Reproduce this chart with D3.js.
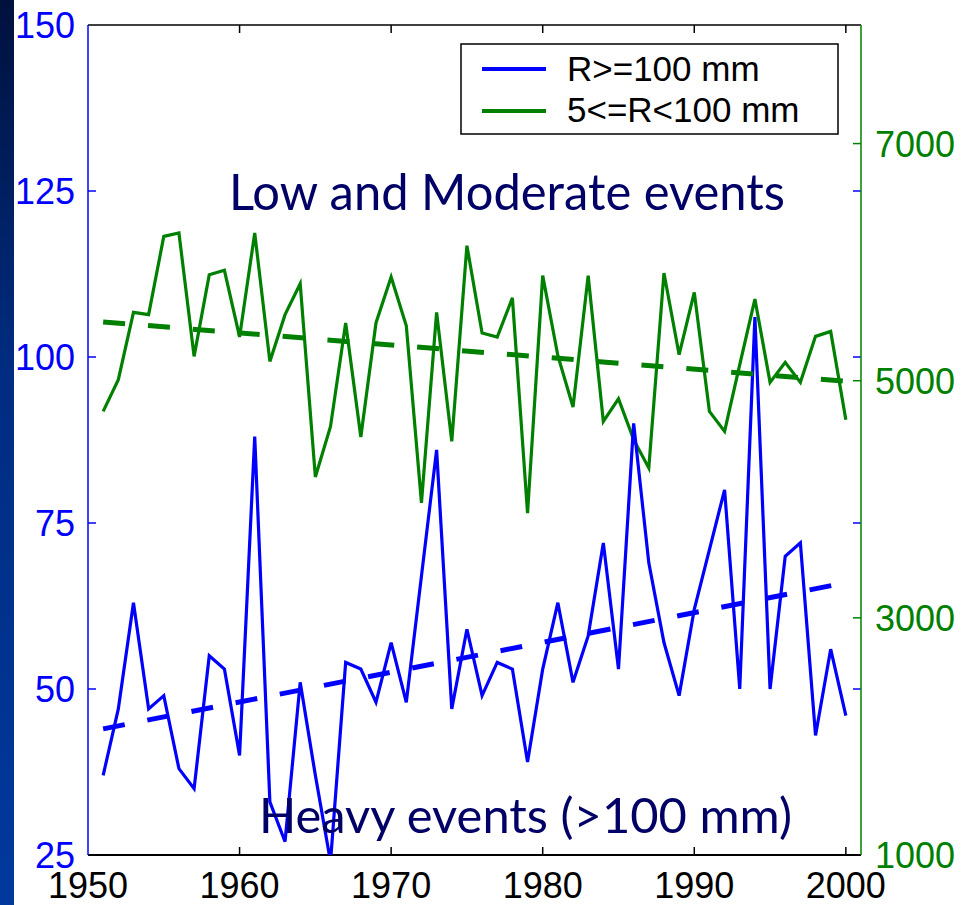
<!DOCTYPE html>
<html>
<head>
<meta charset="utf-8">
<script src="https://cdn.jsdelivr.net/npm/d3@7"></script>
<style>
  body { margin: 0; background: #fff; }
  text { font-family: "Liberation Sans", Arial, sans-serif; }
</style>
</head>
<body>
<script>
// yearly counts of rain events

var years = [1951, 1952, 1953, 1954, 1955, 1956, 1957, 1958, 1959, 1960,
             1961, 1962, 1963, 1964, 1965, 1966, 1967, 1968, 1969, 1970,
             1971, 1972, 1973, 1974, 1975, 1976, 1977, 1978, 1979, 1980,
             1981, 1982, 1983, 1984, 1985, 1986, 1987, 1988, 1989, 1990,
             1991, 1992, 1993, 1994, 1995, 1996, 1997, 1998, 1999, 2000];

// R>=100 mm (left axis)
var heavy = [37, 47, 63, 47, 49, 38, 35, 55, 53, 40,
             88, 33, 27, 51, 37, 24, 54, 53, 48, 57,
             48, 67, 86, 47, 59, 49, 54, 53, 39, 53,
             63, 51, 58, 72, 53, 90, 69, 57, 49, 62,
             71, 80, 50, 106, 50, 70, 72, 43, 56, 46];

// 5<=R<100 mm (right axis)
var moderate = [4741, 5009, 5576, 5557, 6217, 6246, 5205, 5894, 5931, 5369,
                6246, 5163, 5557, 5818, 4188, 4615, 5487, 4525, 5487, 5875,
                5464, 3969, 5576, 4488, 6139, 5403, 5369, 5698, 3884, 5886,
                5211, 4778, 5886, 4657, 4848, 4503, 4264, 5908, 5219, 5745,
                4741, 4573, 5135, 5689, 4986, 5155, 4986, 5374, 5416, 4671];

// dashed linear trends, start and end value
var trendYears = [1951, 2000];
var heavyTrend = [44, 66];
var moderateTrend = [5495, 4995];

var xTicks = [1950, 1960, 1970, 1980, 1990, 2000];
var leftTicks = [25, 50, 75, 100, 125, 150];
var rightTicks = [1000, 3000, 5000, 7000];
var legendLabels = ['R>=100 mm', '5<=R<100 mm'];

var blue = '#0000ff';
var green = '#008000';
var navy = '#000066';

var pLeft = 88, pRight = 861, pTop = 25, pBottom = 855;

var x = d3.scaleLinear().domain([1950, 2001]).range([pLeft, pRight]);
var yL = d3.scaleLinear().domain([25, 150]).range([pBottom, pTop]);
var yR = d3.scaleLinear().domain([1000, 8000]).range([pBottom, pTop]);

var svg = d3.select('body')
  .append('svg')
    .attr('width', 961)
    .attr('height', 905);

// dark strip at the left edge
var defs = svg.append('defs');
var grad = defs.append('linearGradient')
    .attr('id', 'strip')
    .attr('x1', 0).attr('y1', 0).attr('x2', 0).attr('y2', 1);
grad.append('stop').attr('offset', '0%').attr('stop-color', '#00113d');
grad.append('stop').attr('offset', '40%').attr('stop-color', '#002c80');
grad.append('stop').attr('offset', '100%').attr('stop-color', '#00399d');
svg.append('rect')
    .attr('x', 0).attr('y', 0)
    .attr('width', 14).attr('height', 905)
    .style('fill', 'url(#strip)');

defs.append('clipPath').attr('id', 'plot')
  .append('rect')
    .attr('x', pLeft).attr('y', pTop)
    .attr('width', pRight - pLeft).attr('height', pBottom - pTop);

// ticks, all pointing inwards
var tickLen = 8;
var g = svg.append('g');

g.selectAll('.xtb').data(xTicks.slice(1)).enter().append('line')
    .attr('x1', function(d) { return x(d); }).attr('x2', function(d) { return x(d); })
    .attr('y1', pBottom).attr('y2', pBottom - tickLen)
    .style('stroke', '#000').style('stroke-width', 1.5);
g.selectAll('.xtt').data(xTicks.slice(1)).enter().append('line')
    .attr('x1', function(d) { return x(d); }).attr('x2', function(d) { return x(d); })
    .attr('y1', pTop).attr('y2', pTop + tickLen)
    .style('stroke', '#000').style('stroke-width', 1.5);

var innerLeft = leftTicks.slice(1, -1);
g.selectAll('.ytl').data(innerLeft).enter().append('line')
    .attr('x1', pLeft).attr('x2', pLeft + tickLen)
    .attr('y1', function(d) { return yL(d); }).attr('y2', function(d) { return yL(d); })
    .style('stroke', blue).style('stroke-width', 1.5);
g.selectAll('.ytr').data(innerLeft).enter().append('line')
    .attr('x1', pRight).attr('x2', pRight - tickLen)
    .attr('y1', function(d) { return yL(d); }).attr('y2', function(d) { return yL(d); })
    .style('stroke', blue).style('stroke-width', 1.5);
g.selectAll('.yrt').data(rightTicks.slice(1)).enter().append('line')
    .attr('x1', pRight).attr('x2', pRight - tickLen)
    .attr('y1', function(d) { return yR(d); }).attr('y2', function(d) { return yR(d); })
    .style('stroke', green).style('stroke-width', 1.5);

// box
svg.append('line').attr('x1', pLeft).attr('x2', pRight).attr('y1', pTop).attr('y2', pTop)
    .style('stroke', '#000').style('stroke-width', 1.5);
svg.append('line').attr('x1', pLeft).attr('x2', pRight).attr('y1', pBottom).attr('y2', pBottom)
    .style('stroke', '#000').style('stroke-width', 2);
svg.append('line').attr('x1', pLeft).attr('x2', pLeft).attr('y1', pTop).attr('y2', pBottom)
    .style('stroke', blue).style('stroke-width', 1.5);
svg.append('line').attr('x1', pRight).attr('x2', pRight).attr('y1', pTop).attr('y2', pBottom)
    .style('stroke', green).style('stroke-width', 1.5);

// tick labels
svg.selectAll('.xl').data(xTicks).enter().append('text')
    .attr('x', function(d) { return x(d); })
    .attr('y', 898)
    .attr('text-anchor', 'middle')
    .style('font-size', '36px')
    .style('fill', '#000')
    .text(function(d) { return d; });

svg.selectAll('.yl').data(leftTicks).enter().append('text')
    .attr('x', 75)
    .attr('y', function(d) { return yL(d); })
    .attr('dy', '0.36em')
    .attr('text-anchor', 'end')
    .style('font-size', '36px')
    .style('fill', blue)
    .text(function(d) { return d; });

svg.selectAll('.yr').data(rightTicks).enter().append('text')
    .attr('x', 875)
    .attr('y', function(d) { return yR(d); })
    .attr('dy', '0.36em')
    .style('font-size', '36px')
    .style('fill', green)
    .text(function(d) { return d; });

// data lines
var plot = svg.append('g').attr('clip-path', 'url(#plot)');

var lineL = d3.line()
    .x(function(d, i) { return x(years[i]); })
    .y(function(d) { return yL(d); });
var lineR = d3.line()
    .x(function(d, i) { return x(years[i]); })
    .y(function(d) { return yR(d); });
var trendL = d3.line()
    .x(function(d, i) { return x(trendYears[i]); })
    .y(function(d) { return yL(d); });
var trendR = d3.line()
    .x(function(d, i) { return x(trendYears[i]); })
    .y(function(d) { return yR(d); });

plot.append('path').datum(moderate).attr('d', lineR)
    .style('fill', 'none').style('stroke', green).style('stroke-width', 3.2);
plot.append('path').datum(heavy).attr('d', lineL)
    .style('fill', 'none').style('stroke', blue).style('stroke-width', 3.2);
plot.append('path').datum(moderateTrend).attr('d', trendR)
    .style('fill', 'none').style('stroke', green).style('stroke-width', 5)
    .style('stroke-dasharray', '22,23');
plot.append('path').datum(heavyTrend).attr('d', trendL)
    .style('fill', 'none').style('stroke', blue).style('stroke-width', 5)
    .style('stroke-dasharray', '22,23');

// legend
var legend = svg.append('g');
legend.append('rect')
    .attr('x', 461).attr('y', 44)
    .attr('width', 377).attr('height', 90)
    .style('fill', '#fff').style('stroke', '#000').style('stroke-width', 1.5);
legend.selectAll('line').data(legendLabels).enter().append('line')
    .attr('x1', 482).attr('x2', 546)
    .attr('y1', function(d, i) { return 69 + i * 42; })
    .attr('y2', function(d, i) { return 69 + i * 42; })
    .style('stroke', function(d, i) { return i ? green : blue; })
    .style('stroke-width', 4);
legend.selectAll('text').data(legendLabels).enter().append('text')
    .attr('x', 567)
    .attr('y', function(d, i) { return 81 + i * 41; })
    .style('font-size', '35px')
    .style('fill', '#000')
    .text(function(d) { return d; });

// annotations
svg.append('text')
    .attr('x', 229).attr('y', 210)
    .attr('textLength', 556).attr('lengthAdjust', 'spacingAndGlyphs')
    .style('font-family', 'Lato, "Open Sans", sans-serif')
    .style('font-size', '50px')
    .style('fill', navy)
    .text('Low and Moderate events');

svg.append('text')
    .attr('x', 259).attr('y', 833)
    .attr('textLength', 533).attr('lengthAdjust', 'spacingAndGlyphs')
    .style('font-family', 'Lato, "Open Sans", sans-serif')
    .style('font-size', '48px')
    .style('fill', navy)
    .text('Heavy events (>100 mm)');
</script>
</body>
</html>
